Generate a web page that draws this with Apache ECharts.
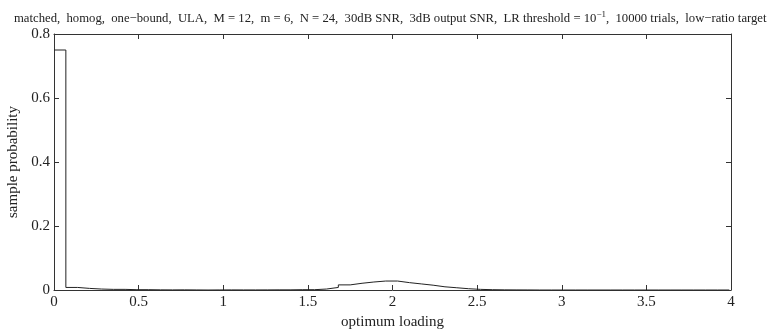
<!DOCTYPE html>
<html>
<head>
<meta charset="utf-8">
<script src="https://cdn.jsdelivr.net/npm/echarts@6/dist/echarts.min.js"></script>
<style>
  html, body { margin: 0; padding: 0; background: #fff; }
  #chart { width: 773px; height: 331px; }
</style>
</head>
<body>
<div id="chart"></div>
<script>
// histogram of optimum loading, bins of width 0.07 starting at 0
var binWidth = 0.07;
var probs = [
  0.75, 0.008, 0.005, 0.003, 0.002, 0.002, 0.001, 0.001, 0.0005, 0.0003,
  0.0005, 0.0002, 0, 0.0002, 0.0003, 0.0002, 0.0002, 0.0003, 0.0005, 0.0005,
  0.001, 0.001, 0.003, 0.008, 0.016, 0.021, 0.025, 0.028, 0.028, 0.023,
  0.019, 0.015, 0.010, 0.007, 0.004, 0.002, 0.001, 0.0005, 0.0003, 0.0002,
  0, 0, 0, 0, 0, 0, 0, 0, 0, 0,
  0, 0, 0, 0, 0, 0, 0
];
var xTicks = [0, 0.5, 1, 1.5, 2, 2.5, 3, 3.5, 4];
var yTicks = [0, 0.2, 0.4, 0.6, 0.8];

// stairs points: (left edge, value) ... then closing right edge
var stairs = [];
for (var i = 0; i < probs.length; i++) {
  stairs.push([i * binWidth, probs[i]]);
}
stairs.push([Math.min(probs.length * binWidth, 4), probs[probs.length - 1]]);

var font = 'Liberation Serif';
var axisColor = '#333';

var myChart = echarts.init(document.getElementById('chart'));
var option = {
  animation: false,
  title: {
    text: '{a|matched,  homog,  one\u2212bound,  ULA,  M = 12,  m = 6,  N = 24,  30dB SNR,  3dB output SNR,  LR threshold = 10}{s|\u22121}{a|,  10000 trials,  low\u2212ratio target}',
    left: 14,
    top: 10,
    padding: 0,
    textStyle: {
      rich: {
        a: { fontFamily: font, fontSize: 12.7, fontWeight: 'normal', color: '#222' },
        s: { fontFamily: font, fontSize: 9, fontWeight: 'normal', color: '#222', padding: [0, 0, 9, 0] }
      }
    }
  },
  grid: { left: 54, right: 42, top: 34, bottom: 41, outerBoundsMode: 'none', containLabel: false },
  xAxis: [
    {
      type: 'value', min: 0, max: 4, interval: 0.5,
      name: 'optimum loading', nameLocation: 'middle', nameGap: 22,
      nameTextStyle: { fontFamily: font, fontSize: 15, color: '#222' },
      axisLine: { onZero: false, lineStyle: { color: axisColor, width: 1 } },
      axisTick: { inside: true, length: 5, lineStyle: { color: axisColor } },
      axisLabel: { fontFamily: font, fontSize: 15, color: '#222', margin: 5,
        formatter: function (v) { return xTicks.indexOf(v) >= 0 ? String(v) : ''; } },
      splitLine: { show: false }
    },
    {
      type: 'value', min: 0, max: 4, interval: 0.5, position: 'top',
      axisLine: { onZero: false, lineStyle: { color: axisColor, width: 1 } },
      axisTick: { inside: true, length: 5, lineStyle: { color: axisColor } },
      axisLabel: { show: false },
      splitLine: { show: false }
    }
  ],
  yAxis: [
    {
      type: 'value', min: 0, max: 0.8, interval: 0.2,
      name: 'sample probability', nameLocation: 'middle', nameGap: 31,
      nameTextStyle: { fontFamily: font, fontSize: 15, color: '#222' },
      axisLine: { show: true, onZero: false, lineStyle: { color: axisColor, width: 1 } },
      axisTick: { show: true, inside: true, length: 5, lineStyle: { color: axisColor } },
      axisLabel: { fontFamily: font, fontSize: 15, color: '#222', margin: 4,
        formatter: function (v) { return yTicks.indexOf(+v.toFixed(1)) >= 0 ? String(+v.toFixed(1)) : ''; } },
      splitLine: { show: false }
    },
    {
      type: 'value', min: 0, max: 0.8, interval: 0.2, position: 'right',
      axisLine: { show: true, onZero: false, lineStyle: { color: axisColor, width: 1 } },
      axisTick: { show: true, inside: true, length: 5, lineStyle: { color: axisColor } },
      axisLabel: { show: false },
      splitLine: { show: false }
    }
  ],
  series: [
    {
      type: 'line',
      step: 'end',
      data: stairs,
      showSymbol: false,
      lineStyle: { color: '#222', width: 1 },
      xAxisIndex: 0,
      yAxisIndex: 0
    }
  ]
};
myChart.setOption(option);
</script>
</body>
</html>
